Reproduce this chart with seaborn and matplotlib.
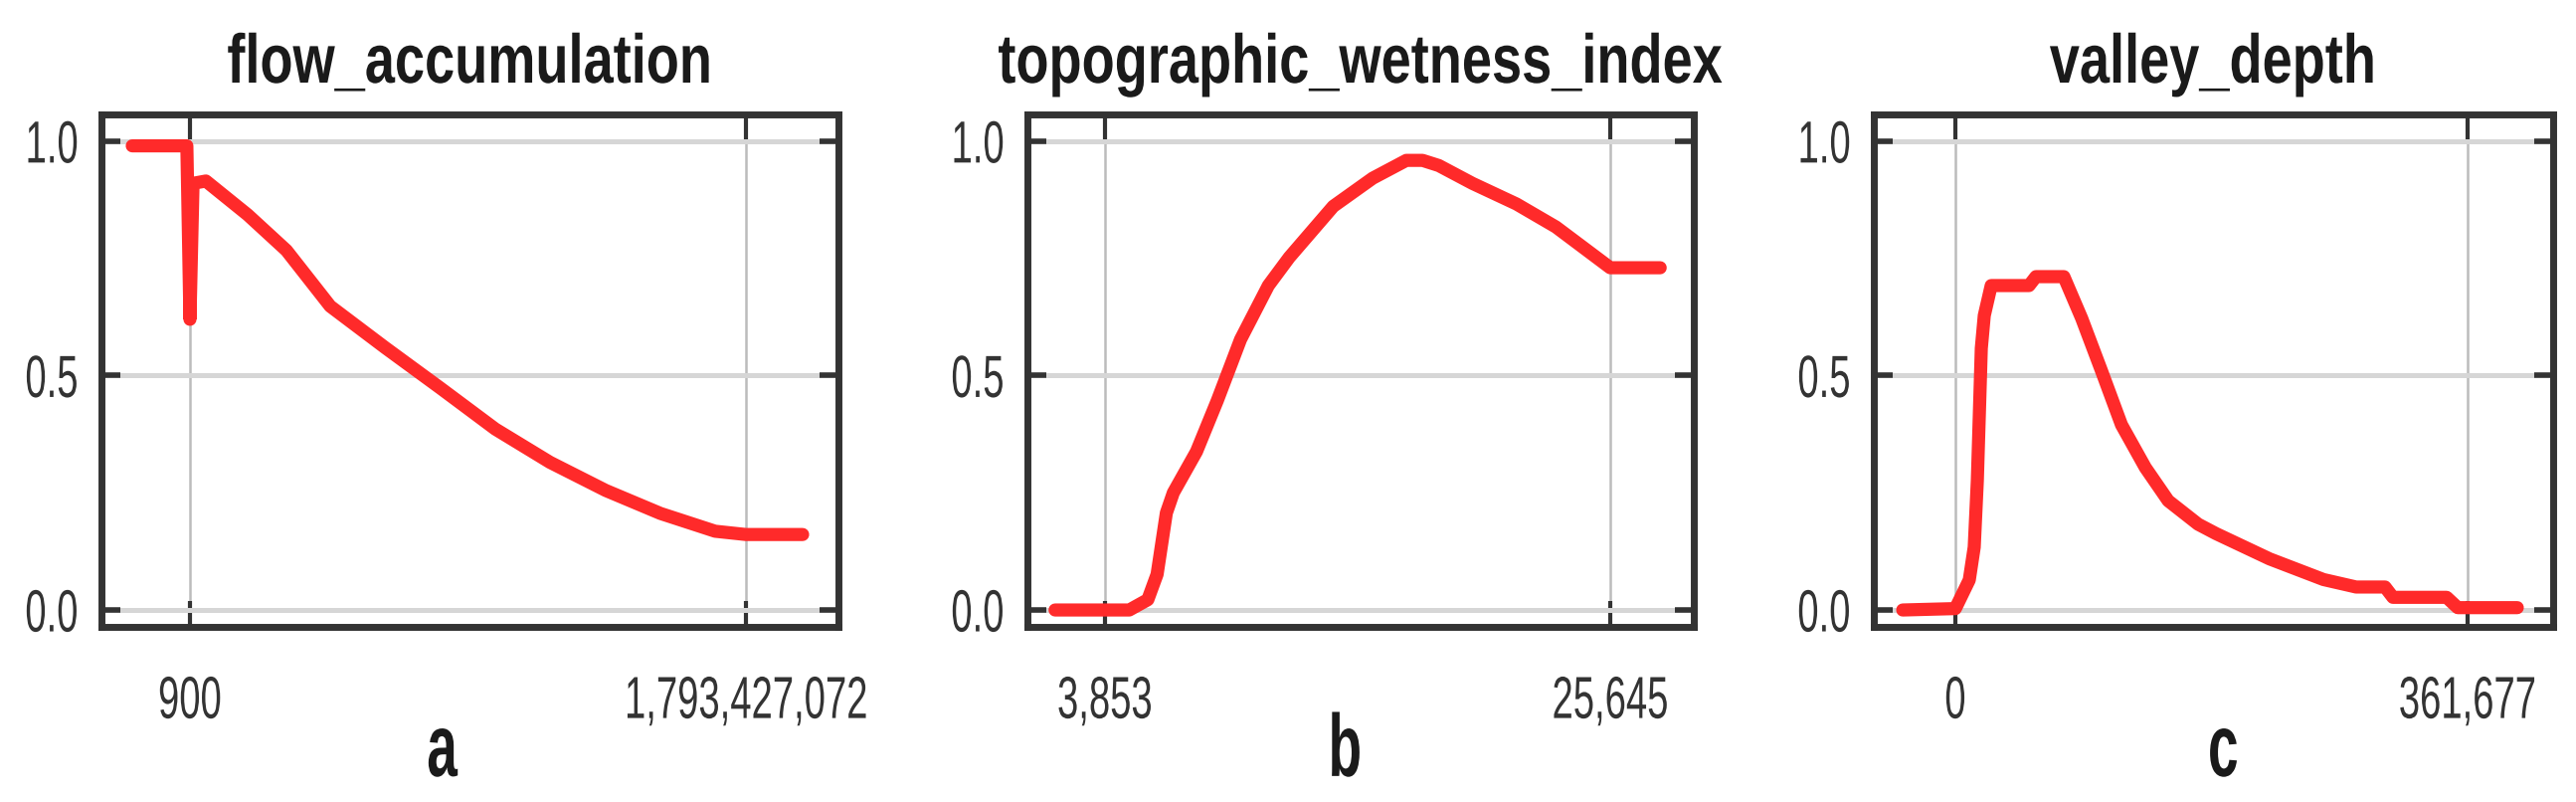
import matplotlib
matplotlib.use("Agg")
import matplotlib.pyplot as plt
from matplotlib import font_manager
from matplotlib.patheffects import AbstractPathEffect
from matplotlib.transforms import Affine2D
import seaborn as sns
import pandas as pd

# panel titles, bottom letters and the two labelled x ticks of each panel
titles = ["flow_accumulation", "topographic_wetness_index", "valley_depth"]
letters = ["a", "b", "c"]
xticks_fa = [900, 1793427072]
xticks_twi = [3853, 25645]
xticks_vd = [0, 361677]
yticks = [0.0, 0.5, 1.0]

# response curves
fa_x = [-1.861e8, -1.0e7, 900, 1.0e7, 5.13e7, 1.861e8, 3.112e8, 4.524e8, 6.288e8,
        8.085e8, 9.849e8, 1.1614e9, 1.3411e9, 1.5175e9, 1.694e9, 1.7934e9, 1.9763e9]
fa_y = [0.99, 0.99, 0.62, 0.91, 0.915, 0.843, 0.767, 0.648, 0.56,
        0.473, 0.386, 0.315, 0.255, 0.206, 0.168, 0.161, 0.161]

twi_x = [1700, 4900, 5700, 6100, 6500, 6800, 7800, 8700, 9700, 10900, 11800,
         13700, 15400, 16850, 17550, 18250, 19700, 21600, 23300, 25645, 27800]
twi_y = [0.0, 0.0, 0.022, 0.076, 0.207, 0.25, 0.338, 0.447, 0.577, 0.692, 0.752,
         0.861, 0.921, 0.959, 0.959, 0.948, 0.91, 0.866, 0.817, 0.73, 0.73]

vd_x = [-37200, 0, 9800, 13300, 15500, 16900, 18300, 20400, 25300, 52000, 56900,
        76600, 89200, 103200, 117300, 134100, 150300, 171400, 184000, 221900,
        259900, 283000, 303400, 309000, 346900, 354700, 396800]
vd_y = [0.0, 0.003, 0.064, 0.134, 0.276, 0.416, 0.558, 0.628, 0.692, 0.692, 0.711,
        0.711, 0.622, 0.51, 0.395, 0.304, 0.233, 0.183, 0.163, 0.109,
        0.065, 0.049, 0.049, 0.027, 0.027, 0.005, 0.005]


class Squeeze(AbstractPathEffect):
    """draw text narrower in x, the picture uses a tall condensed face"""

    def __init__(self, sx, anchor="center"):
        super().__init__()
        self.sx = sx
        self.anchor = anchor

    def draw_path(self, renderer, gc, tpath, affine, rgbFace=None):
        ext = tpath.get_extents()
        x0 = ext.x1 if self.anchor == "right" else (ext.x0 + ext.x1) / 2
        t = Affine2D().translate(-x0, 0).scale(self.sx, 1).translate(x0, 0) + affine
        renderer.draw_path(gc, tpath, t, rgbFace)


sns.set_theme(style="white")
names = {f.name for f in font_manager.fontManager.ttflist}
family = next((n for n in ["Liberation Sans Narrow", "Liberation Sans", "Arial"] if n in names),
              "DejaVu Sans")
plt.rcParams["font.family"] = [family, "DejaVu Sans"]

W, H = 2590, 806
fig = plt.figure(figsize=(W / 100, H / 100), dpi=100)

# axes boxes in pixels: left, right (top 115, bottom 630 for all)
boxes = [(102, 843), (1033, 1703), (1884, 2567)]
xlims = [(-2.855e8, 2.0918e9), (507, 29249), (-57600, 422100)]
letter_x = [0.4615, 0.476, 0.514]

panels = [(fa_x, fa_y, xticks_fa), (twi_x, twi_y, xticks_twi), (vd_x, vd_y, xticks_vd)]

for i, (xs, ys, xt) in enumerate(panels):
    l, r = boxes[i]
    ax = fig.add_axes([l / W, (H - 630) / H, (r - l) / W, 515 / H])
    df = pd.DataFrame({"x": xs, "y": ys})
    sns.lineplot(data=df, x="x", y="y", ax=ax, sort=False, estimator=None,
                 color="#ff2a2a", linewidth=9.5, solid_joinstyle="round")

    ax.set_xlim(*xlims[i])
    ax.set_ylim(-0.036, 1.057)
    ax.set_xticks(xt)
    ax.set_xticklabels([f"{v:,}" for v in xt])
    ax.set_yticks(yticks)
    ax.set_yticklabels([f"{v:.1f}" for v in yticks])
    ax.set_xlabel("")
    ax.set_ylabel("")

    ax.set_axisbelow(True)
    ax.grid(True, axis="y", color="#d6d6d6", linewidth=3.6)
    ax.grid(True, axis="x", color="#bcbcbc", linewidth=1.8)

    for sp in ax.spines.values():
        sp.set_visible(True)
        sp.set_color("#333333")
        sp.set_linewidth(5)

    ax.tick_params(axis="y", direction="in", left=True, right=True, length=14, width=4,
                   color="#333333", labelsize=43, labelcolor="#333333", pad=16)
    ax.tick_params(axis="x", direction="in", bottom=True, top=True, length=19, width=3,
                   color="#333333", labelsize=43, labelcolor="#333333", pad=35)
    for lab in ax.get_xticklabels():
        lab.set_path_effects([Squeeze(0.64)])
    for lab in ax.get_yticklabels():
        lab.set_path_effects([Squeeze(0.64, "right")])

    t = ax.set_title(titles[i], fontsize=50, fontweight="bold", color="#1a1a1a", pad=23)
    t.set_path_effects([Squeeze(0.78)])
    ax.text(letter_x[i], -0.291, letters[i], transform=ax.transAxes, ha="center",
            va="baseline", fontsize=64, fontweight="bold", color="#1a1a1a",
            path_effects=[Squeeze(0.62)])

fig.savefig("out.png", dpi=100, facecolor="white")
